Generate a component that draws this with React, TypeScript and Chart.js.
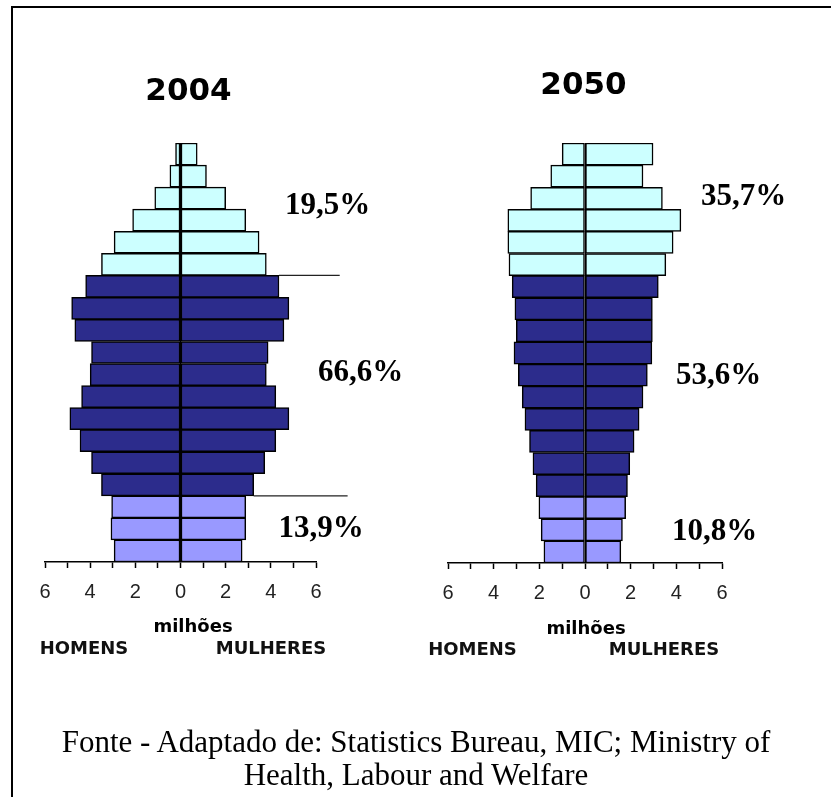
import React, { useEffect, useRef } from "react";
import { Chart, registerables } from "chart.js";

Chart.register(...registerables);

// Age groups, oldest at the top
const AGE_GROUPS = [
  "90+", "85-89", "80-84", "75-79", "70-74", "65-69", "60-64", "55-59", "50-54", "45-49",
  "40-44", "35-39", "30-34", "25-29", "20-24", "15-19", "10-14", "5-9", "0-4",
];

// Broad group of each row: 0 = 65+ (idosos), 1 = 15-64, 2 = 0-14
const ROW_GROUP = [0, 0, 0, 0, 0, 0, 1, 1, 1, 1, 1, 1, 1, 1, 1, 1, 2, 2, 2];
const GROUP_COLORS = ["#ccffff", "#2c2c8c", "#9999ff"];

// Population in millions
const MEN_2004 = [0.22, 0.47, 1.14, 2.12, 2.94, 3.5, 4.2, 4.82, 4.68, 3.94, 4.0, 4.38, 4.9, 4.45, 3.94, 3.5, 3.05, 3.08, 2.94];
const WOMEN_2004 = [0.74, 1.15, 2.0, 2.89, 3.48, 3.8, 4.36, 4.8, 4.58, 3.88, 3.8, 4.22, 4.8, 4.22, 3.73, 3.24, 2.89, 2.89, 2.73];
const MEN_2050 = [1.0, 1.5, 2.38, 3.38, 3.38, 3.33, 3.19, 3.07, 3.01, 3.11, 2.92, 2.75, 2.63, 2.43, 2.28, 2.14, 2.02, 1.92, 1.8];
const WOMEN_2050 = [2.98, 2.54, 3.39, 4.2, 3.86, 3.54, 3.21, 2.95, 2.95, 2.93, 2.73, 2.54, 2.37, 2.15, 1.96, 1.86, 1.78, 1.64, 1.57];

const AXIS_MIN = -6;
const AXIS_MAX = 6;

// Separator lines of the 2004 pyramid: below row index, extending to a value on the x scale
const SEPARATORS_2004 = [
  { belowRow: 5, startRow: 6, endValue: 7.05 },
  { belowRow: 15, startRow: 15, endValue: 7.4 },
];

const W = 831;
const H = 797;

type Sep = { belowRow: number; startRow: number; endValue: number };

function buildConfig(men: number[], women: number[], padding: any, seps: Sep[]) {
  const colors = ROW_GROUP.map((g) => GROUP_COLORS[g]);
  const sepPlugin = {
    id: "separators",
    afterDatasetsDraw(chart: any) {
      if (!seps.length) return;
      const { ctx } = chart;
      const xs = chart.scales.x;
      const ys = chart.scales.y;
      ctx.save();
      ctx.strokeStyle = "#222";
      ctx.lineWidth = 1.2;
      seps.forEach((s) => {
        const y = (ys.getPixelForValue(s.belowRow) + ys.getPixelForValue(s.belowRow + 1)) / 2;
        const x0 = xs.getPixelForValue(women[s.startRow]);
        const x1 = xs.getPixelForValue(s.endValue);
        ctx.beginPath();
        ctx.moveTo(x0, y);
        ctx.lineTo(x1, y);
        ctx.stroke();
      });
      ctx.restore();
    },
  };
  return {
    type: "bar" as const,
    data: {
      labels: AGE_GROUPS,
      datasets: [
        {
          label: "HOMENS",
          data: men.map((v) => -v),
          backgroundColor: colors,
          borderColor: "#000",
          borderWidth: 1.5,
          borderSkipped: false,
          barPercentage: 1,
          categoryPercentage: 1,
        },
        {
          label: "MULHERES",
          data: women,
          backgroundColor: colors,
          borderColor: "#000",
          borderWidth: 1.5,
          borderSkipped: false,
          barPercentage: 1,
          categoryPercentage: 1,
        },
      ],
    },
    options: {
      indexAxis: "y" as const,
      responsive: false,
      animation: false as const,
      layout: { padding },
      plugins: { legend: { display: false }, tooltip: { enabled: false } },
      scales: {
        x: {
          type: "linear" as const,
          min: AXIS_MIN,
          max: AXIS_MAX,
          stacked: true,
          ticks: {
            stepSize: 1,
            autoSkip: false,
            maxRotation: 0,
            padding: 12,
            color: "#222",
            font: { family: "'Liberation Sans Narrow', 'Liberation Sans', sans-serif", size: 20 },
            callback: (v: any) => (Math.round(v) % 2 === 0 ? String(Math.abs(Math.round(v))) : ""),
          },
          grid: {
            drawOnChartArea: true,
            color: (c: any) => (c.tick && c.tick.value === 0 ? "#000" : "rgba(0,0,0,0)"),
            lineWidth: 1,
            tickColor: "#000",
            tickLength: 6,
            tickWidth: 1.5,
          },
          border: { display: true, color: "#000", width: 1.5 },
          afterFit: (s: any) => {
            s.height = 45;
          },
        },
        y: { type: "category" as const, stacked: true, display: false },
      },
    },
    plugins: [sepPlugin],
  };
}

function Pyramid({ men, women, padding, seps }: { men: number[]; women: number[]; padding: any; seps: Sep[] }) {
  const ref = useRef<HTMLCanvasElement | null>(null);
  useEffect(() => {
    if (!ref.current) return;
    const chart = new Chart(ref.current, buildConfig(men, women, padding, seps) as any);
    return () => chart.destroy();
  }, []);
  return (
    <canvas
      ref={ref}
      width={W}
      height={H}
      style={{ position: "absolute", left: 0, top: 0, width: W, height: H }}
    />
  );
}

const SERIF = "'Liberation Serif', 'Times New Roman', serif";
const SANS = "'DejaVu Sans', Verdana, sans-serif";

function Label({ x, y, text, style }: { x: number; y: number; text: string; style: any }) {
  return (
    <div
      style={{
        position: "absolute",
        left: x,
        top: y,
        transform: "translate(-50%, -50%)",
        lineHeight: 1,
        whiteSpace: "nowrap",
        color: "#000",
        ...style,
      }}
    >
      {text}
    </div>
  );
}

const pctStyle = { fontFamily: SERIF, fontWeight: "bold", fontSize: 31 };
const yearStyle = { fontFamily: SANS, fontWeight: "bold", fontSize: 31 };
const unitStyle = { fontFamily: SANS, fontWeight: "bold", fontSize: 18 };
const sexStyle = { fontFamily: SANS, fontWeight: "bold", fontSize: 18, color: "#111" };
const srcStyle = { fontFamily: SERIF, fontSize: 31 };

export default function App() {
  return (
    <div
      style={{
        position: "fixed",
        left: 0,
        top: 0,
        width: W,
        height: H,
        overflow: "hidden",
        background: "#fff",
      }}
    >
      <div
        style={{
          position: "absolute",
          left: 11,
          top: 6,
          width: W + 20,
          height: H + 20,
          borderTop: "2px solid #000",
          borderLeft: "2px solid #000",
        }}
      />
      <Pyramid
        men={MEN_2004}
        women={WOMEN_2004}
        padding={{ left: 45, right: W - 316, top: 143, bottom: H - 562 - 45 }}
        seps={SEPARATORS_2004}
      />
      <Pyramid
        men={MEN_2050}
        women={WOMEN_2050}
        padding={{ left: 448, right: W - 722, top: 143, bottom: H - 563 - 45 }}
        seps={[]}
      />
      <Label x={188.5} y={89} text="2004" style={yearStyle} />
      <Label x={583.5} y={82.5} text="2050" style={yearStyle} />
      <Label x={327.5} y={202.5} text="19,5%" style={pctStyle} />
      <Label x={360.5} y={370} text="66,6%" style={pctStyle} />
      <Label x={321} y={526} text="13,9%" style={pctStyle} />
      <Label x={743.5} y={194} text="35,7%" style={pctStyle} />
      <Label x={718.5} y={373} text="53,6%" style={pctStyle} />
      <Label x={714.5} y={528.5} text="10,8%" style={pctStyle} />
      <Label x={193} y={625.5} text="milhões" style={unitStyle} />
      <Label x={586} y={627.5} text="milhões" style={unitStyle} />
      <Label x={84} y={648} text="HOMENS" style={sexStyle} />
      <Label x={271} y={648} text="MULHERES" style={sexStyle} />
      <Label x={472.5} y={648.5} text="HOMENS" style={sexStyle} />
      <Label x={664} y={648.5} text="MULHERES" style={sexStyle} />
      <Label x={416} y={741} text="Fonte - Adaptado de: Statistics Bureau, MIC; Ministry of" style={srcStyle} />
      <Label x={416} y={774} text="Health, Labour and Welfare" style={srcStyle} />
    </div>
  );
}
